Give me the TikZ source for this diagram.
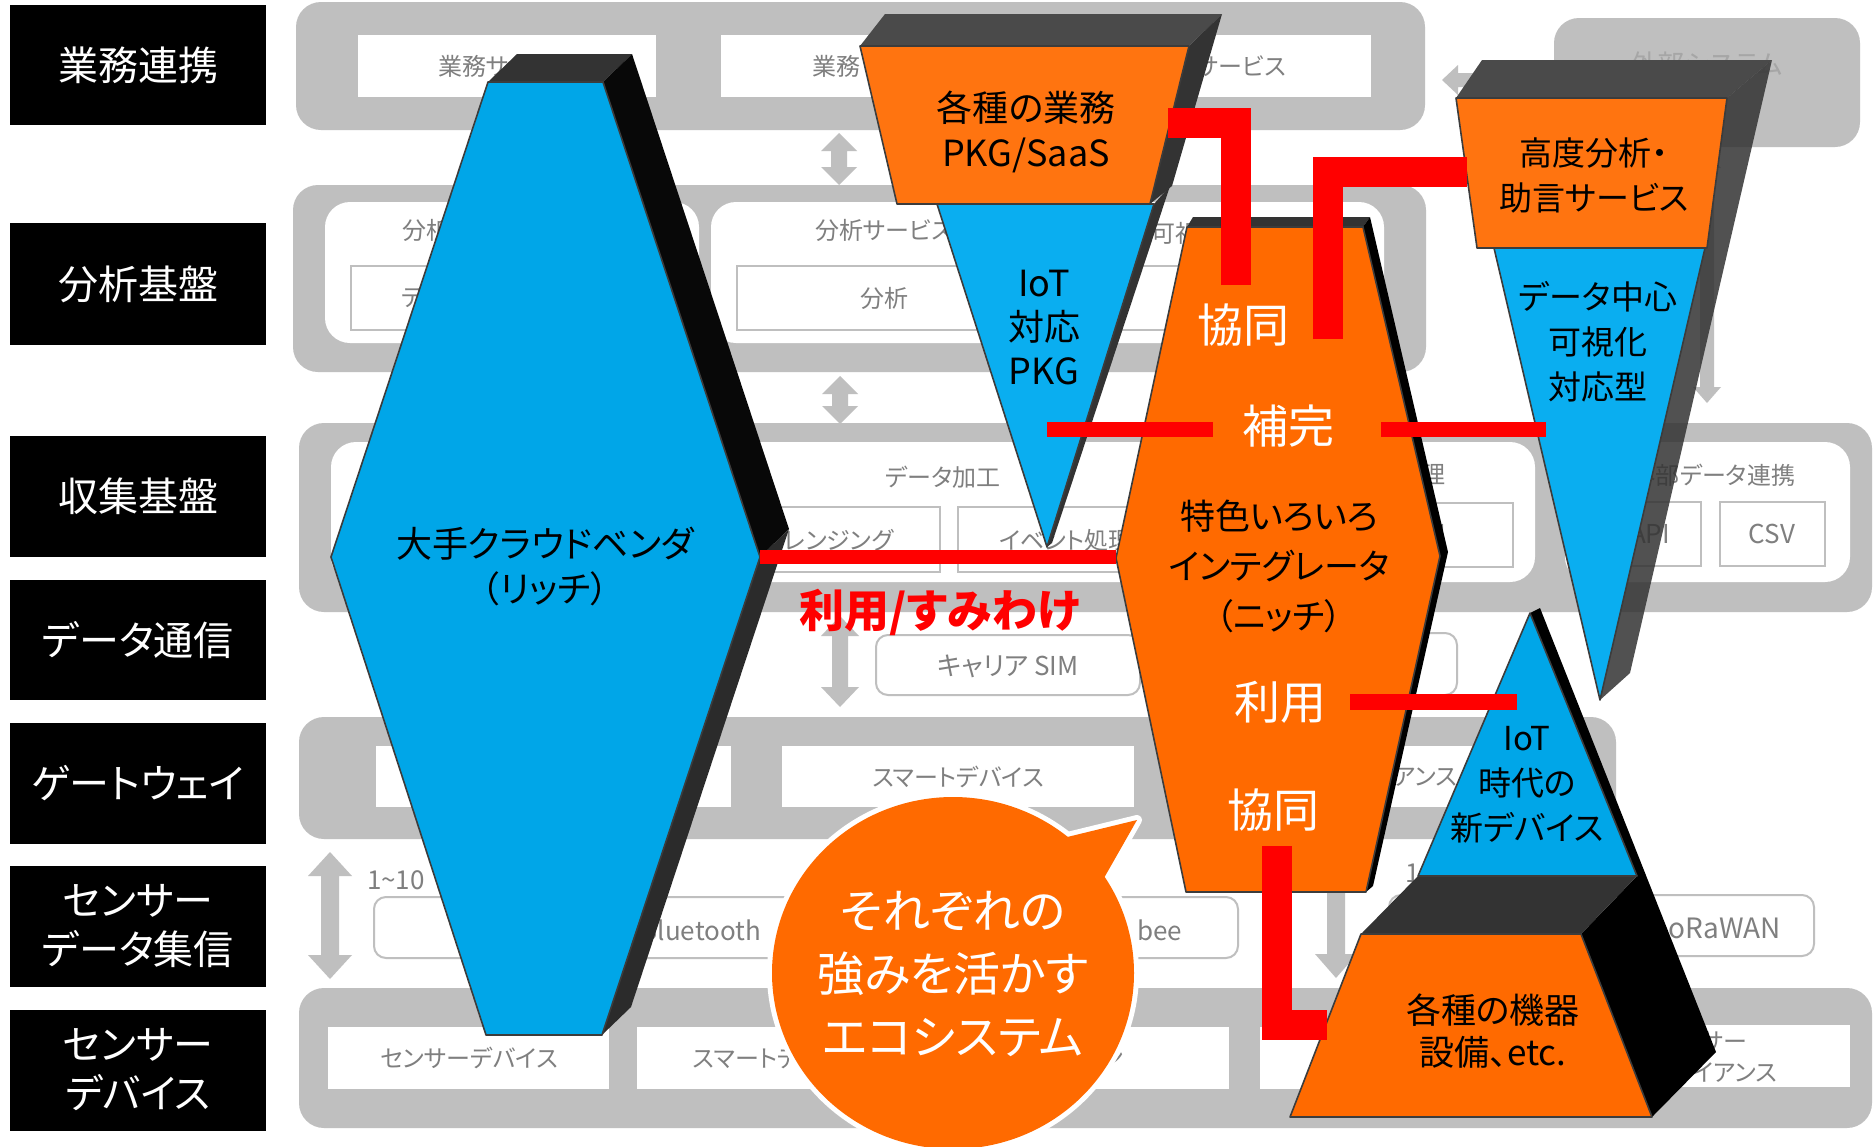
\documentclass[tikz,border=0pt]{standalone}
\usepackage{fontspec}
\setmainfont{Noto Sans CJK JP}[RawFeature=+palt]
\definecolor{laygray}{HTML}{BFBFBF}
\definecolor{txtgray}{HTML}{7F7F7F}
\definecolor{extgray}{HTML}{A6A6A6}
\definecolor{boxgray}{HTML}{BFBFBF}
\definecolor{blueA}{HTML}{00A6E8}
\definecolor{blueB}{HTML}{0AAEF0}
\definecolor{orangeA}{HTML}{FF7410}
\definecolor{orangeB}{HTML}{FF6A00}
\definecolor{redline}{HTML}{FF0000}
\definecolor{topdark}{HTML}{333333}
\definecolor{topdarkb}{HTML}{4A4A4A}
\definecolor{edgecol}{HTML}{3C3C3C}
\newcommand{\setfs}[2]{\fontsize{#1pt}{#2pt}\selectfont}
% x, ytop, ybot, headhalf, shafthalf, headlen
\newcommand{\vdarr}[6]{\fill[laygray] (#1,#2) -- (#1+#4,#2+#6) -- (#1+#5,#2+#6) -- (#1+#5,#3-#6) -- (#1+#4,#3-#6) -- (#1,#3) -- (#1-#4,#3-#6) -- (#1-#5,#3-#6) -- (#1-#5,#2+#6) -- (#1-#4,#2+#6) -- cycle;}
% y, xleft, xright, headhalf, shafthalf, headlen
\newcommand{\hdarr}[6]{\fill[laygray] (#2,#1) -- (#2+#6,#1-#4) -- (#2+#6,#1-#5) -- (#3-#6,#1-#5) -- (#3-#6,#1-#4) -- (#3,#1) -- (#3-#6,#1+#4) -- (#3-#6,#1+#5) -- (#2+#6,#1+#5) -- (#2+#6,#1+#4) -- cycle;}
\begin{document}
\begin{tikzpicture}[x=0.5pt,y=-0.5pt,
  every node/.style={inner sep=0pt,outer sep=0pt},
  lbltxt/.style={text=white,font=\setfs{20}{24.5},align=center},
  bgtxt/.style={text=txtgray,font=\setfs{12}{14}},
  lattxt/.style={text=txtgray,font=\setfs{13}{15}},
  boxline/.style={draw=boxgray,line width=1pt,fill=white},
  rbox/.style={draw=boxgray,line width=1pt,fill=white,rounded corners=6pt},
  layer/.style={fill=laygray,rounded corners=12.5pt},
  innerreg/.style={fill=white,rounded corners=12.5pt},
  facestyle/.style={draw=edgecol,line width=0.8pt,line join=round},
  redthin/.style={draw=redline,line width=7.5pt},
  redthick/.style={draw=redline,line width=15pt},
  shptxt/.style={align=center,text=black},
  whtxt/.style={text=white,font=\setfs{23}{27}},
]
\useasboundingbox (0,0) rectangle (1874,1146);
\fill[white] (0,0) rectangle (1874,1146);

% ---------- left labels ----------
\fill[black] (10,5) rectangle (266,125);     \node[lbltxt] (l1) at (138,65) {業務連携};
\fill[black] (10,223) rectangle (266,345);   \node[lbltxt] (l2) at (138,284) {分析基盤};
\fill[black] (10,436) rectangle (266,557);   \node[lbltxt] (l3) at (138,496) {収集基盤};
\fill[black] (10,580) rectangle (266,700);   \node[lbltxt] (l4) at (138,640) {データ通信};
\fill[black] (10,723) rectangle (266,844);   \node[lbltxt] (l5) at (138,783) {ゲートウェイ};
\fill[black] (10,866) rectangle (266,987);   \node[lbltxt] (l6) at (138,926) {センサー\\データ集信};
\fill[black] (10,1010) rectangle (266,1131); \node[lbltxt] (l7) at (138,1070) {センサー\\デバイス};

% ---------- layer 1 ----------
\fill[layer] (296,2) rectangle (1425,130);
\fill[white] (358,35) rectangle (656,97);
\fill[white] (721,35) rectangle (1371,97);
\node[bgtxt] (t1a) at (507,66) {業務サービス};
\node[bgtxt,anchor=west] (t1b) at (812,66) {業務};
\node[bgtxt,anchor=east] (t1c) at (1286,66) {サービス};
\fill[layer] (1554,18) rectangle (1860,147);
\node[text=extgray,font=\setfs{13.5}{16}] (ext) at (1707,64) {外部システム};
\hdarr{80}{1442}{1552}{15}{7}{16}
\vdarr{1707}{152}{403}{14}{7}{16}
\vdarr{839}{133}{185}{18}{8}{18}

% ---------- layer 2 ----------
\fill[layer] (293,185) rectangle (1426,372);
\fill[innerreg] (325,202) rectangle (699,343);
\fill[innerreg] (711,202) rectangle (1384,343);
\draw[boxline] (351,266) rectangle (675,330);
\draw[boxline] (737,266) rectangle (1031,330);
\draw[boxline] (1045,266) rectangle (1365,330);
\node[bgtxt,anchor=west] (t2a) at (402,230) {分析};
\node[bgtxt,anchor=west] (t2b) at (402,298) {テ};
\node[bgtxt] (t2c) at (884,230) {分析サービス};
\node[bgtxt,anchor=west] (t2d) at (1151,233) {可視化};
\node[bgtxt] (t2e) at (884,298) {分析};
\vdarr{840}{376}{424}{18}{8}{18}

% ---------- layer 3 ----------
\fill[layer] (299,423) rectangle (1872,612);
\fill[innerreg] (331,442) rectangle (1535,582);
\fill[innerreg] (1565,442) rectangle (1850,582);
\draw[boxline] (716,507) rectangle (940,572);
\draw[boxline] (958,507) rectangle (1174,572);
\draw[boxline] (1190,503) rectangle (1513,567);
\draw[boxline] (1600,502) rectangle (1701,566);
\draw[boxline] (1720,502) rectangle (1825,566);
\node[bgtxt] (t3a) at (943,477) {データ加工};
\node[bgtxt] (t3b) at (828,540) {クレンジング};
\node[bgtxt] (t3c) at (1066,540) {イベント処理};
\node[bgtxt] (t3d) at (1433,475) {理};
\node[bgtxt] (t3e) at (1433,535) {理};
\node[bgtxt,anchor=east] (t3f) at (1795,475) {外部データ連携};
\node[lattxt] (t3g) at (1650,534) {API};
\node[lattxt] (t3h) at (1772,534) {CSV};

% ---------- layer 4 ----------
\vdarr{840}{616}{707}{19}{8}{20}
\draw[rbox] (876,635) rectangle (1140,695);
\draw[rbox] (1165,633) rectangle (1457,695);
\node[lattxt] (t4a) at (1008,666) {キャリア SIM};

% ---------- layer 5 ----------
\fill[layer] (299,717) rectangle (1616,839);
\fill[white] (376,746) rectangle (731,807);
\fill[white] (782,746) rectangle (1134,807);
\fill[white] (1185,746) rectangle (1561,807);
\node[bgtxt] (t5a) at (958,777) {スマートデバイス};
\node[bgtxt,anchor=east] (t5b) at (1457,777) {アンス};

% ---------- layer 6 ----------
\vdarr{330}{852}{979}{22}{9}{24}
\vdarr{1336}{851}{978}{21}{9}{24}
\draw[rbox] (374,897) rectangle (1238,958);
\draw[rbox] (1389,895) rectangle (1814,956);
\node[lattxt,anchor=west] (t6a) at (367,880) {1\textasciitilde10};
\node[lattxt,anchor=west] (t6b) at (1405,873) {1\textasciitilde10};
\node[lattxt,anchor=east] (t6c) at (761,930) {Bluetooth};
\node[lattxt,anchor=west] (t6d) at (1137,930) {bee};
\node[lattxt,anchor=east,font=\setfs{14}{16}] (t6e) at (1781,928) {LoRaWAN};

% ---------- layer 7 ----------
\fill[layer] (299,988) rectangle (1872,1128);
\fill[white] (328,1027) rectangle (609,1089);
\fill[white] (637,1027) rectangle (920,1089);
\fill[white] (945,1027) rectangle (1229,1089);
\fill[white] (1260,1027) rectangle (1540,1089);
\fill[white] (1555,1025) rectangle (1850,1087);
\node[bgtxt] (t7a) at (469,1058) {センサーデバイス};
\node[bgtxt,anchor=west] (t7b) at (693,1058) {スマートデ};
\node[bgtxt] (t7c) at (1112,1058) {ン};
\node[bgtxt,align=center,font=\setfs{12}{15.5}] (t7d) at (1702,1057) {センサー\\アプライアンス};

% ---------- big cloud vendor hexagon ----------
\fill[topdark] (488,82) -- (517,54) -- (632,54) -- (603,82) -- cycle;
\fill[black!97] (603,82) -- (632,54) -- (789,529) -- (760,557) -- cycle;
\fill[topdark!85!black] (760,557) -- (789,529) -- (631,1007) -- (602,1035) -- cycle;
\filldraw[facestyle,fill=blueA] (488,82) -- (603,82) -- (760,557) -- (602,1035) -- (486,1035) -- (331,557) -- cycle;
\node[shptxt,font=\setfs{18}{22.5}] (hex) at (545,566) {大手クラウドベンダ\\（リッチ）};

% ---------- business PKG / IoT PKG ----------
\fill[topdarkb] (860,46) -- (885,14) -- (1222,14) -- (1189,46) -- cycle;
\fill[topdark] (1189,46) -- (1222,14) -- (1172,186) -- (1150,204) -- cycle;
\fill[topdark] (1154,204) -- (1170,186) -- (1052,543) -- (1047,547) -- cycle;
\filldraw[facestyle,fill=blueB] (937,204) -- (1154,204) -- (1047,547) -- cycle;
\filldraw[facestyle,fill=orangeA] (860,46) -- (1189,46) -- (1150,204) -- (897,204) -- cycle;
\node[shptxt,font=\setfs{18}{22.5}] (pkg) at (1026,132) {各種の業務\\PKG/SaaS};
\node[shptxt,font=\setfs{18}{22}] (iotpkg) at (1044,328) {IoT\\対応\\PKG};

% ---------- integrator ----------
\fill[topdark] (1187,227) -- (1193,217) -- (1370,217) -- (1363,227) -- cycle;
\fill[black] (1363,227) -- (1370,217) -- (1448,552) -- (1373,886) -- (1366,892) -- (1440,556) -- cycle;
\filldraw[facestyle,fill=orangeB] (1187,227) -- (1363,227) -- (1440,556) -- (1366,892) -- (1186,892) -- (1116,558) -- cycle;

% ---------- advanced analysis / data centric ----------
\fill[topdarkb] (1456,98) -- (1482,60) -- (1772,60) -- (1727,98) -- cycle;
\fill[black!80,fill opacity=0.85] (1727,98) -- (1772,60) -- (1630,673) -- (1600,700) -- (1705,248) -- (1707,248) -- cycle;
\filldraw[facestyle,fill=blueB] (1494,248) -- (1705,248) -- (1600,700) -- cycle;
\filldraw[facestyle,fill=orangeA] (1456,98) -- (1727,98) -- (1707,248) -- (1477,248) -- cycle;
\node[shptxt,font=\setfs{16.5}{22.5}] (adv) at (1594,175) {高度分析・\\助言サービス};
\node[shptxt,font=\setfs{16.5}{22.5}] (dc) at (1598,342) {データ中心\\可視化\\対応型};

% ---------- new devices / equipment ----------
\fill[black] (1530,613) -- (1540,608) -- (1716,1052) -- (1652,1117) -- (1581,934) -- (1637,876) -- cycle;
\fill[topdark] (1418,876) -- (1637,876) -- (1581,934) -- (1361,934) -- cycle;
\filldraw[facestyle,fill=blueA] (1530,613) -- (1637,876) -- (1418,876) -- cycle;
\filldraw[facestyle,fill=orangeB] (1361,934) -- (1581,934) -- (1652,1117) -- (1290,1117) -- cycle;
\node[shptxt,font=\setfs{16.5}{22.5}] (newdev) at (1527,785) {IoT\\時代の\\新デバイス};
\node[shptxt,font=\setfs{17.5}{21}] (equip) at (1493,1031) {各種の機器\\設備、etc.};

% ---------- red connectors ----------
\coordinate (hexR) at (760,557);
\coordinate (intL) at (1116,557);
\coordinate (pkgR) at (1168,123);
\coordinate (kyoA) at (1236,285);
\coordinate (kyoB) at (1328,339);
\coordinate (advL) at (1467,172);
\coordinate (kyoC) at (1277,846);
\coordinate (devL) at (1327,1025);
\coordinate (hokA) at (1047,429);
\coordinate (hokB) at (1213,429);
\coordinate (hokC) at (1381,429);
\coordinate (hokD) at (1546,429);
\coordinate (riyA) at (1350,702);
\coordinate (riyB) at (1517,702);
\draw[redline,line width=7pt] (hexR) -- (intL);
\draw[redthin] (hokA) -- (hokB);
\draw[redthin] (hokC) -- (hokD);
\draw[redline,line width=8pt] (riyA) -- (riyB);
\draw[redthick] (pkgR) -| (kyoA);
\draw[redthick] (kyoB) |- (advL);
\draw[redthick] (kyoC) |- (devL);
\node[text=redline,font=\bfseries\setfs{22.5}{25}] (sumi) at (940,612) {利用/すみわけ};

% integrator texts
\node[whtxt] (kyo1) at (1243,325) {協同};
\node[whtxt] (hok) at (1288,426) {補完};
\node[shptxt,font=\setfs{17.5}{25}] (integ) at (1279,566) {特色いろいろ\\インテグレータ\\（ニッチ）};
\node[whtxt] (riy) at (1280,702) {利用};
\node[whtxt] (kyo2) at (1273,810) {協同};

% ---------- speech bubble ----------
\draw[white,line width=5pt] (953,973) ellipse [x radius=90.5pt, y radius=88pt];
\draw[white,line width=5pt,line join=round] (1055,840) -- (1137,820) -- (1100,885) -- cycle;
\fill[orangeB] (953,973) ellipse [x radius=90.5pt, y radius=88pt];
\fill[orangeB] (1055,840) -- (1137,820) -- (1100,885) -- cycle;
\node[text=white,align=center,font=\setfs{23.5}{31.5}] (bub) at (953,974) {それぞれの\\強みを活かす\\エコシステム};
\end{tikzpicture}
\end{document}
